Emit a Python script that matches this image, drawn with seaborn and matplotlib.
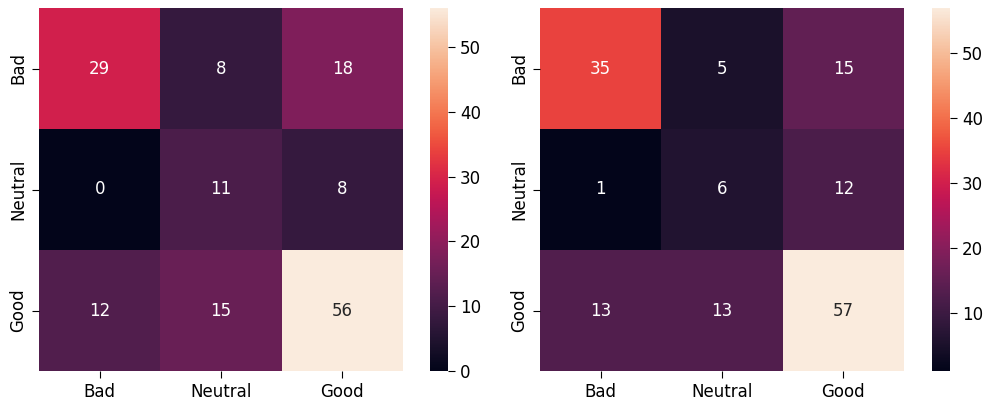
import numpy as np
import matplotlib
matplotlib.use("Agg")
import matplotlib.pyplot as plt
import seaborn as sns

labels = ["Bad", "Neutral", "Good"]
cm_left = [[29, 8, 18],
           [0, 11, 8],
           [12, 15, 56]]
cm_right = [[35, 5, 15],
            [1, 6, 12],
            [13, 13, 57]]

plt.rcParams["font.family"] = ["DejaVu Sans"]
plt.rcParams["font.size"] = 12
plt.rcParams["xtick.major.size"] = 5
plt.rcParams["ytick.major.size"] = 5

fig = plt.figure(figsize=(9.86, 4.05), dpi=100)
W, H = 986.0, 405.0

def box(x0, y0, x1, y1):
    return [x0 / W, 1 - y1 / H, (x1 - x0) / W, (y1 - y0) / H]

ax1 = fig.add_axes(box(39, 8, 403, 371))
cax1 = fig.add_axes(box(430, 8, 448, 371))
ax2 = fig.add_axes(box(540, 8, 904, 371))
cax2 = fig.add_axes(box(932, 8, 950, 371))

for ax, cax, cm in [(ax1, cax1, cm_left), (ax2, cax2, cm_right)]:
    sns.heatmap(np.array(cm), annot=True, fmt="d", ax=ax, cbar_ax=cax,
                xticklabels=labels, yticklabels=labels,
                annot_kws={"fontsize": 12})
    ax.tick_params(labelsize=12)
    cax.tick_params(labelsize=12)

fig.savefig("out.png", dpi=100)
